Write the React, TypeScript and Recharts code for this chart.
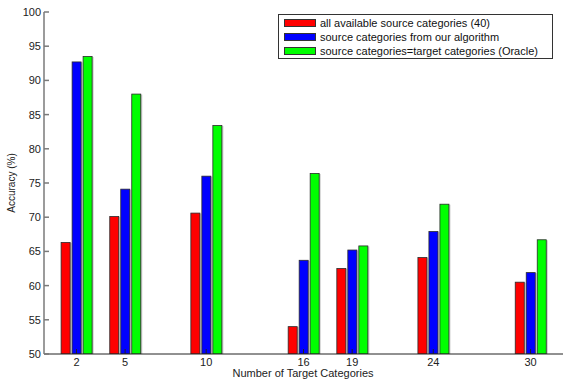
import { Bar, BarChart, XAxis, YAxis } from "recharts"

const categories = [2, 5, 10, 16, 19, 24, 30]
const allSources = [66.3, 70.1, 70.6, 54.0, 62.5, 64.1, 60.5]
const ourAlgorithm = [92.7, 74.1, 76.0, 63.7, 65.2, 67.9, 61.9]
const oracle = [93.5, 88.0, 83.4, 76.4, 65.8, 71.9, 66.7]
const yTicks = [50, 55, 60, 65, 70, 75, 80, 85, 90, 95, 100]

const seriesNames = [
  "all available source categories (40)",
  "source categories from our algorithm",
  "source categories=target categories (Oracle)",
]
const seriesColors = ["#ff0000", "#0000ff", "#00ff00"]
const seriesKeys = ["all", "ours", "oracle"]

const data = categories.map((n, i) => ({
  n,
  all: allSources[i],
  ours: ourAlgorithm[i],
  oracle: oracle[i],
}))

const font = "'Liberation Sans', Arial, sans-serif"

// matlab-ish bar: thin dark edge with a faint grey shadow on the right
function ShadowBar(props: any) {
  const { x, y, width, height, fill } = props
  if (!height || height <= 0) return null
  return (
    <g>
      <rect x={x + 1.5} y={y + 0.5} width={width} height={height} fill="#c8c8c8" />
      <rect
        x={x}
        y={y}
        width={width}
        height={height}
        fill={fill}
        stroke="#2a2a2a"
        strokeWidth={0.8}
      />
    </g>
  )
}

const noTick = () => <g />

export default function App() {
  return (
    <div
      style={{
        position: "absolute",
        left: 0,
        top: 0,
        width: 572,
        height: 382,
        background: "#fff",
        fontFamily: font,
      }}
    >
      <BarChart
        width={572}
        height={382}
        data={data}
        margin={{ top: 12, right: 9, left: 0, bottom: 0 }}
        barSize={9}
        barGap={2}
      >
        <XAxis
          dataKey="n"
          type="number"
          domain={[0, 32]}
          ticks={categories}
          allowDataOverflow
          height={28}
          tickSize={-5}
          tickMargin={9}
          stroke="#222"
          tick={{ fill: "#222", fontSize: 11, fontFamily: font }}
        />
        <XAxis
          xAxisId="top"
          orientation="top"
          type="number"
          domain={[0, 32]}
          ticks={categories}
          allowDataOverflow
          height={0}
          tickSize={-5}
          stroke="#222"
          tick={noTick}
        />
        <YAxis
          domain={[50, 100]}
          ticks={yTicks}
          allowDataOverflow
          width={44}
          tickSize={-5}
          tickMargin={8}
          stroke="#7a7a7a"
          strokeWidth={1.5}
          tick={{ fill: "#222", fontSize: 11, fontFamily: font }}
          label={{
            value: "Accuracy (%)",
            angle: -90,
            position: "insideLeft",
            dx: 6,
            style: { fill: "#222", fontSize: 10, fontFamily: font, textAnchor: "middle" },
          }}
        />
        <YAxis
          yAxisId="right"
          orientation="right"
          domain={[50, 100]}
          ticks={yTicks}
          allowDataOverflow
          width={0}
          tickSize={-5}
          stroke="#7a7a7a"
          strokeWidth={1.5}
          tick={noTick}
        />
        {seriesKeys.map((k, i) => (
          <Bar
            key={k}
            dataKey={k}
            name={seriesNames[i]}
            fill={seriesColors[i]}
            shape={ShadowBar}
            isAnimationActive={false}
          />
        ))}
      </BarChart>
      <div
        style={{
          position: "absolute",
          left: 228,
          top: 367,
          width: 150,
          textAlign: "center",
          fontSize: 11,
          lineHeight: "13px",
          color: "#222",
          whiteSpace: "nowrap",
        }}
      >
        Number of Target Categories
      </div>
      <div
        style={{
          position: "absolute",
          left: 278,
          top: 14,
          width: 275,
          height: 45,
          border: "1px solid #333",
          background: "#fff",
          boxSizing: "border-box",
          paddingTop: 1,
        }}
      >
        {seriesNames.map((name, i) => (
          <div
            key={name}
            style={{
              display: "flex",
              alignItems: "center",
              height: 14,
              fontSize: 11,
              color: "#111",
              whiteSpace: "nowrap",
            }}
          >
            <span
              style={{
                display: "inline-block",
                width: 32,
                height: 8,
                marginLeft: 5,
                marginRight: 4,
                background: seriesColors[i],
                border: "1px solid #333",
                boxSizing: "border-box",
              }}
            />
            {name}
          </div>
        ))}
      </div>
    </div>
  )
}
